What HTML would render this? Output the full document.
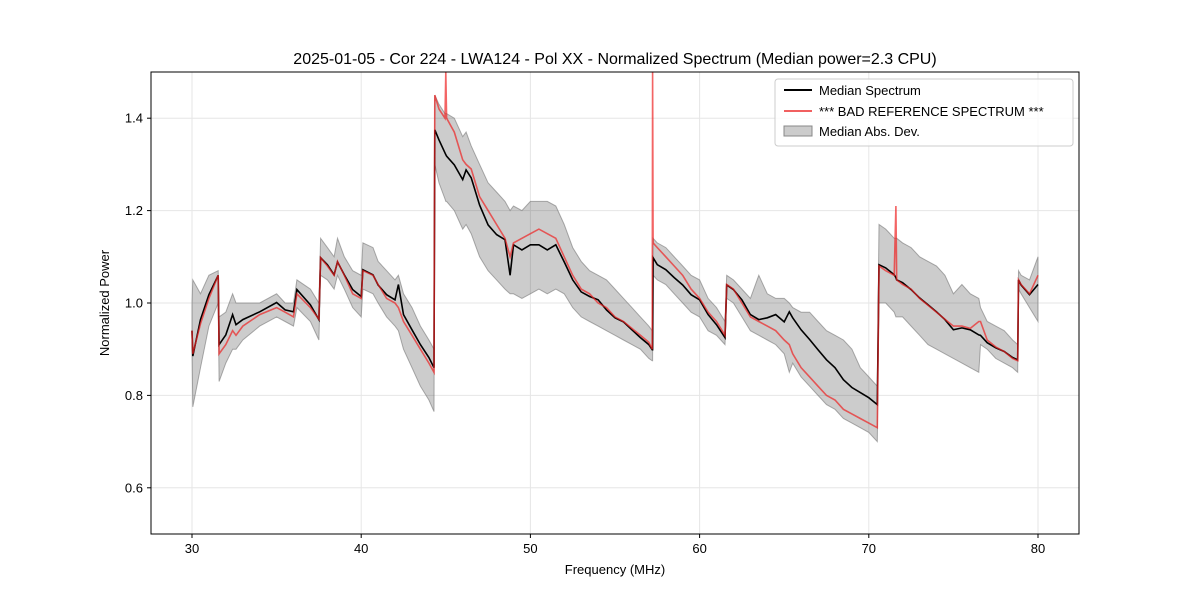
<!DOCTYPE html>
<html><head><meta charset="utf-8"><style>
body{margin:0;background:#fff;font-family:"Liberation Sans","DejaVu Sans",sans-serif}
</style></head><body>
<svg id="chart" width="1200" height="600" xmlns="http://www.w3.org/2000/svg" font-family="Liberation Sans, DejaVu Sans, sans-serif">
<rect width="1200" height="600" fill="#fff"/>
<text x="615" y="64" font-size="16" text-anchor="middle">2025-01-05 - Cor 224 - LWA124 - Pol XX - Normalized Spectrum (Median power=2.3 CPU)</text>
<g id="grid"></g>
<defs><clipPath id="clip"><rect x="151" y="72" width="928" height="462"/></clipPath></defs>
<g id="plot" clip-path="url(#clip)"></g>
<rect x="151" y="72" width="928" height="462" fill="none" stroke="#000" stroke-width="1"/>
<g id="ticks"></g>
<text x="615" y="574" font-size="13" text-anchor="middle">Frequency (MHz)</text>
<text transform="translate(109,303) rotate(-90)" font-size="13" text-anchor="middle">Normalized Power</text>
<g>
<rect x="775" y="79" width="298" height="67" rx="3" fill="#fff" fill-opacity="0.8" stroke="#ccc"/>
<line x1="784" y1="90" x2="812" y2="90" stroke="#000" stroke-width="2"/>
<text x="819" y="95" font-size="13">Median Spectrum</text>
<line x1="784" y1="111" x2="812" y2="111" stroke="#ee4444" stroke-opacity="0.85" stroke-width="2"/>
<text x="819" y="116" font-size="13">*** BAD REFERENCE SPECTRUM ***</text>
<rect x="784" y="126" width="28" height="10" fill="#000" fill-opacity="0.2" stroke="#888"/>
<text x="819" y="136" font-size="13">Median Abs. Dev.</text>
</g>
</svg>
<script>
const freq=[30.0,30.05,30.5,31.0,31.55,31.6,32.0,32.4,32.6,33.0,34.0,35.0,35.5,36.0,36.2,37.0,37.5,37.6,38.0,38.4,38.6,39.0,39.5,40.0,40.1,40.7,41.0,41.5,42.0,42.2,42.5,43.0,43.5,44.0,44.3,44.35,44.6,44.95,45.0,45.05,45.5,46.0,46.2,46.5,47.0,47.5,48.0,48.5,48.8,49.0,49.5,50.0,50.5,51.0,51.5,52.0,52.5,53.0,53.5,54.0,54.5,55.0,55.5,56.0,56.5,57.0,57.2,57.22,57.25,57.5,58.0,58.5,59.0,59.5,60.0,60.5,61.0,61.5,61.6,62.0,62.5,63.0,63.5,64.0,64.5,65.0,65.3,65.5,66.0,66.5,67.0,67.5,68.0,68.5,69.0,69.5,70.0,70.5,70.6,71.0,71.5,71.6,71.65,72.0,72.5,73.0,73.5,74.0,74.5,75.0,75.5,76.0,76.5,76.6,77.0,77.5,78.0,78.5,78.8,78.85,79.0,79.5,80.0];
const median=[0.94,0.885,0.964,1.018,1.06,0.91,0.931,0.975,0.953,0.964,0.981,1.001,0.985,0.981,1.029,0.996,0.964,1.098,1.083,1.061,1.089,1.061,1.029,1.014,1.072,1.061,1.039,1.018,1.007,1.04,0.975,0.942,0.91,0.882,0.86,1.375,1.353,1.325,1.321,1.318,1.299,1.267,1.288,1.271,1.212,1.169,1.148,1.137,1.06,1.126,1.115,1.126,1.126,1.115,1.126,1.089,1.05,1.024,1.014,1.007,0.985,0.968,0.959,0.942,0.925,0.91,0.899,0.899,1.098,1.083,1.072,1.055,1.039,1.018,1.007,0.975,0.953,0.925,1.039,1.029,1.007,0.975,0.964,0.968,0.975,0.959,0.981,0.968,0.942,0.921,0.899,0.877,0.86,0.834,0.817,0.806,0.795,0.78,1.083,1.076,1.061,1.055,1.05,1.044,1.029,1.011,0.996,0.981,0.964,0.942,0.946,0.942,0.931,0.93,0.914,0.903,0.895,0.882,0.877,1.05,1.039,1.018,1.04];
const badRef=[0.94,0.89,0.955,1.01,1.06,0.89,0.91,0.94,0.93,0.95,0.975,0.99,0.98,0.97,1.02,0.99,0.965,1.098,1.08,1.06,1.09,1.06,1.02,1.01,1.07,1.06,1.04,1.01,1.0,0.99,0.96,0.93,0.9,0.87,0.85,1.45,1.42,1.40,1.5,1.40,1.37,1.31,1.30,1.29,1.23,1.2,1.17,1.14,1.1,1.13,1.14,1.15,1.16,1.15,1.14,1.1,1.06,1.03,1.02,1.0,0.99,0.97,0.96,0.945,0.93,0.915,0.90,1.5,1.13,1.12,1.1,1.08,1.06,1.03,1.01,0.98,0.96,0.93,1.04,1.03,1.0,0.97,0.96,0.95,0.94,0.92,0.91,0.89,0.86,0.84,0.82,0.8,0.79,0.77,0.76,0.75,0.74,0.73,1.08,1.07,1.06,1.21,1.05,1.04,1.03,1.01,0.995,0.98,0.965,0.95,0.95,0.945,0.96,0.96,0.92,0.905,0.895,0.88,0.875,1.05,1.04,1.02,1.06];
const madLow=[0.90,0.775,0.86,0.95,1.0,0.83,0.87,0.9,0.9,0.92,0.95,0.97,0.96,0.95,0.99,0.96,0.92,1.06,1.05,1.03,1.06,1.03,0.99,0.97,1.03,1.02,1.0,0.97,0.95,0.94,0.9,0.86,0.82,0.79,0.765,1.3,1.26,1.225,1.22,1.22,1.2,1.16,1.17,1.15,1.1,1.07,1.05,1.03,1.02,1.02,1.01,1.02,1.03,1.02,1.03,1.02,0.99,0.97,0.96,0.95,0.94,0.93,0.92,0.91,0.9,0.88,0.875,0.875,1.06,1.05,1.04,1.02,1.0,0.98,0.97,0.94,0.93,0.91,1.01,1.0,0.97,0.94,0.93,0.92,0.91,0.89,0.85,0.87,0.84,0.82,0.8,0.78,0.77,0.75,0.74,0.73,0.72,0.70,1.0,1.0,0.98,0.97,0.97,0.97,0.95,0.93,0.91,0.9,0.89,0.88,0.87,0.86,0.85,0.91,0.9,0.88,0.87,0.86,0.85,1.03,1.02,0.99,0.96];
const madHigh=[1.0,1.05,1.02,1.06,1.07,0.97,0.98,1.02,1.0,1.0,1.0,1.02,1.0,1.0,1.05,1.03,1.0,1.14,1.12,1.1,1.14,1.1,1.07,1.06,1.13,1.12,1.09,1.07,1.05,1.06,1.02,0.99,0.95,0.92,0.9,1.45,1.43,1.41,1.41,1.41,1.4,1.36,1.37,1.34,1.3,1.26,1.24,1.22,1.2,1.21,1.2,1.22,1.22,1.22,1.21,1.17,1.12,1.09,1.07,1.06,1.05,1.03,1.01,0.99,0.97,0.95,0.94,0.94,1.14,1.13,1.12,1.1,1.08,1.06,1.05,1.01,0.99,0.96,1.06,1.05,1.03,1.01,1.06,1.02,1.01,1.01,1.0,0.99,0.98,0.98,0.96,0.94,0.93,0.92,0.9,0.86,0.84,0.82,1.17,1.16,1.14,1.14,1.14,1.13,1.12,1.1,1.09,1.08,1.06,1.02,1.04,1.02,1.01,0.99,0.96,0.95,0.94,0.92,0.91,1.07,1.06,1.05,1.10];
const xTicks=[30,40,50,60,70,80];
const yTicks=[0.6,0.8,1.0,1.2,1.4];

const NS='http://www.w3.org/2000/svg';
const X0=151,X1=1079,Y0=72,Y1=534,xMin=27.577,xMax=82.423,yMin=0.5,yMax=1.5;
function xs(v){return X0+(v-xMin)/(xMax-xMin)*(X1-X0);}
function ys(v){return Y1-(v-yMin)/(yMax-yMin)*(Y1-Y0);}
function mk(tag,attrs,parent){const e=document.createElementNS(NS,tag);for(const k in attrs)e.setAttribute(k,attrs[k]);parent.appendChild(e);return e;}
const grid=document.getElementById('grid'),ticks=document.getElementById('ticks'),plot=document.getElementById('plot');
xTicks.forEach(t=>{
  const x=xs(t);
  const g=mk('line',{x1:x,x2:x,y1:Y0,y2:Y1,stroke:'#e6e6e6','stroke-width':1},grid);
  
  
  mk('line',{x1:x,x2:x,y1:Y1,y2:Y1+4,stroke:'#000'},ticks);
  const l=mk('text',{x:x,y:Y1+19,'font-size':13,'text-anchor':'middle'},ticks);
  l.textContent=t;
  
  
});
yTicks.forEach(t=>{
  const y=ys(t);
  const g=mk('line',{x1:X0,x2:X1,y1:y,y2:y,stroke:'#e6e6e6','stroke-width':1},grid);
  
  
  mk('line',{x1:X0-4,x2:X0,y1:y,y2:y,stroke:'#000'},ticks);
  const l=mk('text',{x:X0-8,y:y+4.5,'font-size':13,'text-anchor':'end'},ticks);
  l.textContent=t.toFixed(1);
  
  
});
let band='';
freq.forEach((f,i)=>{band+=(i?'L':'M')+xs(f).toFixed(1)+','+ys(madHigh[i]).toFixed(1);});
for(let i=freq.length-1;i>=0;i--)band+='L'+xs(freq[i]).toFixed(1)+','+ys(madLow[i]).toFixed(1);
const b=mk('path',{d:band+'Z',fill:'#000','fill-opacity':0.2,stroke:'#777','stroke-opacity':0.6,'stroke-width':1},plot);


function line(arr){return freq.map((f,i)=>(i?'L':'M')+xs(f).toFixed(1)+','+ys(arr[i]).toFixed(1)).join('');}
const m=mk('path',{d:line(median),fill:'none',stroke:'#000','stroke-width':1.6},plot);


const r=mk('path',{d:line(badRef),fill:'none',stroke:'#ee2222','stroke-opacity':0.7,'stroke-width':1.6},plot);


</script>
</body></html>
